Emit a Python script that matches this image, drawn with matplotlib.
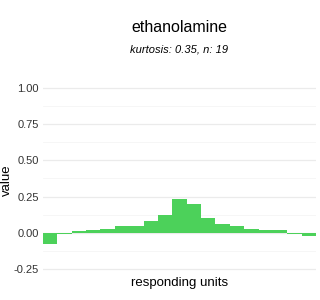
import matplotlib
matplotlib.use("Agg")
import matplotlib.pyplot as plt
from matplotlib.ticker import MultipleLocator

plt.rcParams['font.family'] = ['Liberation Sans', 'DejaVu Sans']

# one bar per responding unit, sorted as in the picture
units = list(range(1, 20))
values = [-0.075, -0.010, 0.011, 0.018, 0.025, 0.046, 0.046, 0.083, 0.124,
          0.232, 0.198, 0.101, 0.062, 0.046, 0.025, 0.018, 0.018, -0.007, -0.021]
yticks = [-0.25, 0.0, 0.25, 0.5, 0.75, 1.0]
ytick_labels = ["-0.25", "0.00", "0.25", "0.50", "0.75", "1.00"]

fig = plt.figure(figsize=(3.2, 3.0), dpi=100)
ax = fig.add_axes([0.134, 0.0733, 0.8535, 0.6637])

xpos = [i for i in range(len(units))]
ax.bar(xpos, values, width=1.0, color="#4CD15A", linewidth=0, zorder=2)

ax.set_xlim(-0.5, len(units) - 0.5)
ax.set_ylim(-0.3125, 1.0625)
ax.set_yticks(yticks)
ax.set_yticklabels(ytick_labels)
ax.yaxis.set_minor_locator(MultipleLocator(0.125))
ax.set_xticks([])

ax.grid(axis="y", which="major", color="#EBEBEB", linewidth=0.9, zorder=0)
ax.grid(axis="y", which="minor", color="#F5F5F5", linewidth=0.6, zorder=0)
for s in ax.spines.values():
    s.set_visible(False)
ax.tick_params(axis="y", which="both", length=0, labelsize=8, labelcolor="#333333", pad=3)

fig.text(0.561, 0.91, "ethanolamine", ha="center", va="center", fontsize=11.5)
fig.text(0.561, 0.835, "kurtosis: 0.35, n: 19", ha="center", va="center",
         fontsize=8, style="italic")
fig.text(0.561, 0.058, "responding units", ha="center", va="center", fontsize=9.5)
fig.text(0.022, 0.40, "value", ha="center", va="center", fontsize=9.5, rotation=90)

fig.savefig("out.png", dpi=100)
